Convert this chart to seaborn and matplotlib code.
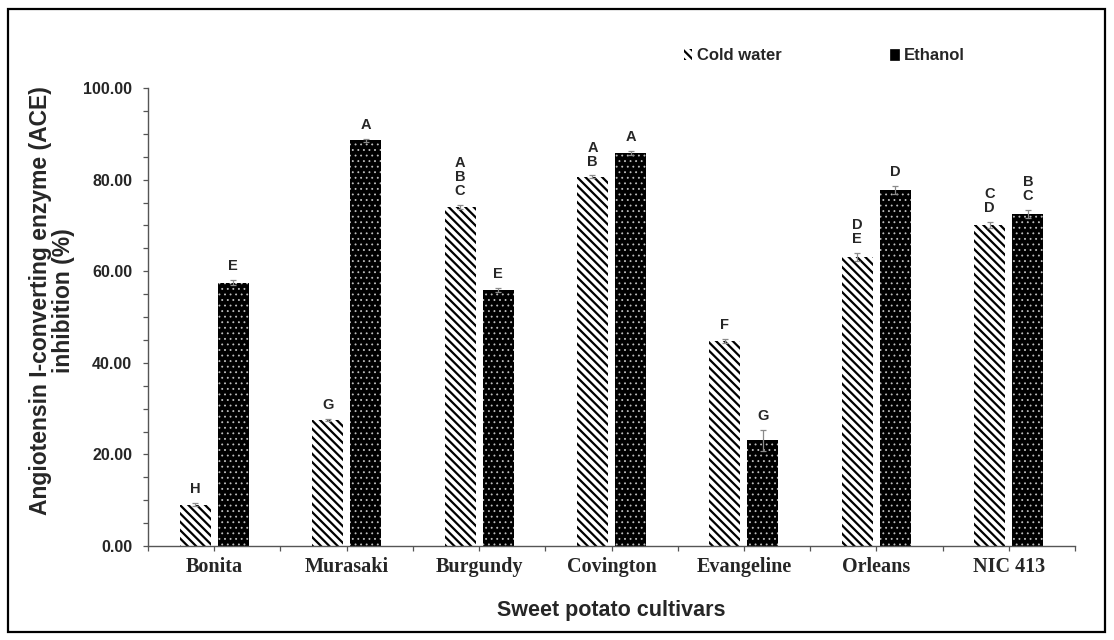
import matplotlib
matplotlib.use("Agg")
import matplotlib.pyplot as plt
from matplotlib.patches import Patch, Rectangle
from matplotlib.ticker import MultipleLocator, FormatStrFormatter
import numpy as np
import pandas as pd
import seaborn as sns

# ---- data -------------------------------------------------------------
cultivars = ["Bonita", "Murasaki", "Burgundy", "Covington", "Evangeline", "Orleans", "NIC 413"]
extracts = ["Cold water", "Ethanol"]

cold_water = [9.0, 27.5, 74.0, 80.6, 44.8, 63.1, 70.1]
ethanol = [57.5, 88.6, 55.9, 85.8, 23.1, 77.7, 72.5]

cold_err = [0.3, 0.3, 0.4, 0.3, 0.4, 0.8, 0.7]
ethanol_err = [0.6, 0.3, 0.4, 0.4, 2.3, 0.9, 0.9]

cold_letters = ["H", "G", "A\nB\nC", "A\nB", "F", "D\nE", "C\nD"]
ethanol_letters = ["E", "A", "E", "A", "G", "D", "B\nC"]

df = pd.DataFrame({
    "cultivar": cultivars * 2,
    "extract": [extracts[0]] * len(cultivars) + [extracts[1]] * len(cultivars),
    "value": cold_water + ethanol,
})

COLD_HATCH = "\\\\\\\\"

# ---- style ------------------------------------------------------------
sns.set_style("white")
plt.rcParams["font.family"] = ["Liberation Sans", "DejaVu Sans"]
plt.rcParams["hatch.linewidth"] = 1.6

fig = plt.figure(figsize=(11.14, 6.4), dpi=100)
ax = fig.add_axes([148 / 1114, 1 - 546 / 640, (1075 - 148) / 1114, (546 - 88) / 640])

sns.barplot(
    data=df, x="cultivar", y="value", hue="extract",
    order=cultivars, hue_order=extracts,
    palette={"Cold water": "white", "Ethanol": "black"},
    width=0.574, gap=0.185, errorbar=None, legend=False, ax=ax,
)

cold_bars, eth_bars = ax.containers[0], ax.containers[1]
for p in cold_bars:
    p.set_facecolor("white")
    p.set_edgecolor("black")
    p.set_linewidth(0)
    p.set_hatch(COLD_HATCH)
for p in eth_bars:
    p.set_facecolor("black")
    p.set_edgecolor("#c0c0c0")
    p.set_linewidth(0)
    p.set_hatch("...")
    if hasattr(p, "set_hatch_linewidth"):
        p.set_hatch_linewidth(0.6)

# error bars and significance letters
for bars, vals, errs, letters in [
    (cold_bars, cold_water, cold_err, cold_letters),
    (eth_bars, ethanol, ethanol_err, ethanol_letters),
]:
    xs = np.array([p.get_x() + p.get_width() / 2 for p in bars])
    ax.errorbar(xs, vals, yerr=errs, fmt="none", ecolor="#8a8a8a",
                elinewidth=0.9, capsize=2.2, capthick=0.9)
    for x, v, e, lab in zip(xs, vals, errs, letters):
        ax.annotate(lab, (x, v + e), xytext=(0, 5), textcoords="offset points",
                    ha="center", va="bottom", fontsize=10.5, fontweight="bold",
                    linespacing=1.0)

# ---- axes -------------------------------------------------------------
ax.set_ylim(0, 100)
ax.set_xlim(-0.5, len(cultivars) - 0.5)
ax.yaxis.set_major_locator(MultipleLocator(20))
ax.yaxis.set_minor_locator(MultipleLocator(5))
ax.yaxis.set_major_formatter(FormatStrFormatter("%.2f"))
ax.xaxis.set_minor_locator(MultipleLocator(0.5))

for s in ["top", "right"]:
    ax.spines[s].set_visible(False)
for s in ["left", "bottom"]:
    ax.spines[s].set_color("#555555")
    ax.spines[s].set_linewidth(1.0)

ax.tick_params(axis="y", which="both", direction="out", length=3.5, width=0.9,
               color="#555555", left=True, pad=8)
ax.tick_params(axis="x", which="both", direction="out", length=3.8, width=0.9,
               color="#555555", bottom=True, pad=4)
for t in ax.get_yticklabels():
    t.set_fontsize(11.5)
    t.set_fontweight("bold")
ax.set_xticks(range(len(cultivars)))
ax.set_xticklabels(cultivars, fontsize=14.5, fontweight="bold",
                   family=["Liberation Serif", "DejaVu Serif"])

ax.set_xlabel("Sweet potato cultivars", fontsize=15.5, fontweight="bold", labelpad=17)
ax.set_ylabel("Angiotensin I-converting enzyme (ACE)\ninhibition (%)",
              fontsize=16.5, fontweight="bold", linespacing=1.0)
ax.yaxis.set_label_coords(-0.079, 0.535)

# legend above the plot
handles = [
    Patch(facecolor="white", edgecolor="black", hatch=COLD_HATCH, linewidth=0),
    Patch(facecolor="black", edgecolor="black", linewidth=0.5),
]
leg = fig.legend(handles, extracts, loc="center left",
                 bbox_to_anchor=(684 / 1114, 1 - 56 / 640),
                 bbox_transform=fig.transFigure, ncol=2, frameon=False,
                 handlelength=0.5, handleheight=0.6, handletextpad=0.3,
                 columnspacing=6.5, borderpad=0, borderaxespad=0,
                 prop={"weight": "bold", "size": 12})

# outer frame
fig.patches.append(Rectangle((8 / 1114, 1 - 632 / 640), (1105 - 8) / 1114, (632 - 9) / 640,
                             transform=fig.transFigure, fill=False,
                             edgecolor="black", linewidth=1.6))

fig.savefig("out.png", dpi=100)
